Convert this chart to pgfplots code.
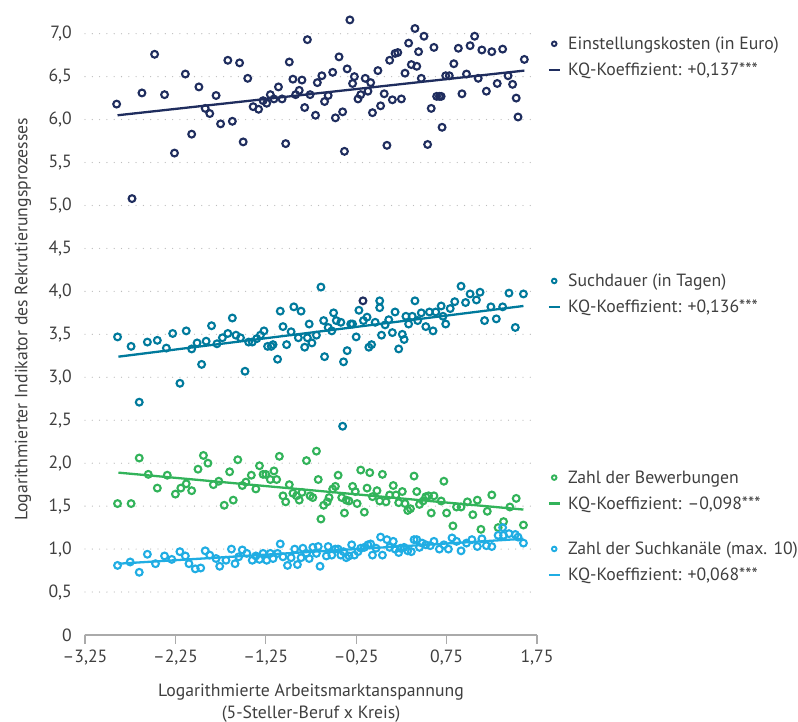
\documentclass[border=0pt]{standalone}
\usepackage{fontspec}
\setmainfont{PT Sans}
\usepackage{pgfplots}
\pgfplotsset{compat=1.18}
\definecolor{cnavy}{HTML}{1F2D5E}
\definecolor{cteal}{HTML}{007A9C}
\definecolor{cgreen}{HTML}{32B35A}
\definecolor{clight}{HTML}{20ADE3}
\definecolor{axgray}{HTML}{AAAAAA}
\definecolor{txtgray}{HTML}{3F3F3F}
\definecolor{gridgray}{HTML}{BDBDBD}
\newcommand{\myfont}{\fontsize{17.7bp}{22bp}\selectfont}
\pgfplotsset{
  scat/.style={only marks, mark=o, mark size=3.4bp, line width=2.1bp},
  regl/.style={no marks, line width=2.3bp},
  mymarkleg/.style={legend image code/.code={\path (-5.3bp,0) (5.3bp,0); \draw[##1, mark size=2.3bp, line width=1.9bp] plot coordinates {(0bp,0bp)};}},
  mylineleg/.style={legend image code/.code={\draw[##1, line width=2.4bp] (-5.3bp,0) -- (5.3bp,0);}},
  basegeom/.style={
    at={(0,0)}, anchor=south west, scale only axis,
    width=452bp, height=631.4bp,
    xmin=-3.25, xmax=1.75, ymin=0, ymax=7.35,
  },
  legbox/.style={
    hide axis,
    legend style={draw=none, fill=none, inner sep=0pt, outer sep=0pt,
      nodes={inner sep=0pt, text=txtgray}, font=\myfont,
      row sep=12bp, column sep=7.4bp, cells={anchor=west},
      anchor=west, at={(1.0237,#1)}},
  },
}
\begin{document}
\begin{tikzpicture}
\useasboundingbox (-85bp,-87bp) rectangle (713bp,635bp);
\begin{axis}[basegeom,
  axis x line*=bottom, axis y line*=left,
  x axis line style={draw=axgray, line width=1.2bp, -},
  y axis line style={draw=none},
  xtick style={draw=axgray, line width=1.2bp},
  ytick style={draw=none},
  tick align=outside, major tick length=9bp,
  xtick={-3.25,-2.25,-1.25,-0.25,0.75,1.75},
  xticklabels={–3{,}25,–2{,}25,–1{,}25,–0{,}25,0{,}75,1{,}75},
  ytick={0,0.5,1,1.5,2,2.5,3,3.5,4,4.5,5,5.5,6,6.5,7},
  yticklabels={0,0{,}5,1{,}0,1{,}5,2{,}0,2{,}5,3{,}0,3{,}5,4{,}0,4{,}5,5{,}0,5{,}5,6{,}0,6{,}5,7{,}0},
  tick label style={font=\myfont, text=txtgray},
  yticklabel style={inner sep=0pt, xshift=-4bp},
  xticklabel style={inner sep=0pt, yshift=-6bp},
  ymajorgrids,
  major grid style={draw=gridgray, line width=1.3bp, line cap=round, dash pattern=on 0bp off 7.3bp},
  xlabel={Logarithmierte Arbeitsmarktanspannung\\(5-Steller-Beruf x Kreis)},
  ylabel={Logarithmierter Indikator des Rekrutierungsprozesses},
  label style={font=\myfont, text=txtgray, align=center},
  xlabel style={yshift=-15bp},
  ylabel style={yshift=14bp},
]
\addplot[scat, cnavy] coordinates {
(-2.90,6.18)(-2.73,5.08)(-2.62,6.31)(-2.48,6.76)(-2.37,6.29)(-2.26,5.61)(-2.14,6.53)(-2.07,5.83)(-1.99,6.38)(-1.92,6.13)
(-1.87,6.07)(-1.80,6.28)(-1.75,5.95)(-1.67,6.69)(-1.62,5.98)(-1.54,6.66)(-1.50,5.74)(-1.45,6.48)(-1.39,6.15)(-1.33,6.12)
(-1.28,6.22)(-1.24,6.19)(-1.20,6.29)(-1.16,6.24)(-1.11,6.38)(-1.07,6.24)(-1.03,5.72)(-0.99,6.67)(-0.95,6.47)(-0.92,6.29)
(-0.88,6.34)(-0.85,6.46)(-0.82,6.14)(-0.79,6.93)(-0.76,6.29)(-0.70,6.05)(-0.68,6.43)(-0.63,6.51)(-0.60,6.21)(-0.56,6.28)
(-0.51,6.55)(-0.48,6.02)(-0.44,6.73)(-0.40,6.09)(-0.38,5.63)(-0.35,6.59)(-0.32,7.16)(-0.29,6.42)(-0.27,6.50)(-0.23,6.24)
(-0.20,6.29)(-0.15,6.48)(-0.12,6.33)(-0.09,6.43)(-0.07,6.08)(-0.01,6.57)(0.02,6.16)(0.06,6.30)(0.09,5.70)(0.12,6.69)
(0.15,6.23)(0.18,6.77)(0.21,6.78)(0.25,6.24)(0.29,6.54)(0.33,6.89)(0.36,6.64)(0.40,7.06)(0.42,6.62)(0.44,6.79)
(0.47,6.48)(0.50,6.97)(0.54,5.71)(0.58,6.13)(0.61,6.84)(0.64,6.27)(0.67,6.27)(0.69,6.27)(0.70,5.91)(0.74,6.51)
(0.78,6.51)(0.83,6.65)(0.88,6.83)(0.92,6.30)(0.97,6.53)(1.01,6.86)(1.06,6.97)(1.10,6.48)(1.14,6.81)(1.19,6.33)
(1.25,6.79)(1.31,6.42)(1.37,6.82)(1.43,6.51)(1.48,6.41)(1.52,6.25)(1.54,6.03)(1.61,6.70)(-0.175,3.89)
};
\addplot[regl, cnavy] coordinates {(-2.89,6.05)(1.61,6.57)};
\addplot[scat, cteal] coordinates {
(-2.89,3.47)(-2.74,3.36)(-2.65,2.71)(-2.56,3.41)(-2.45,3.43)(-2.35,3.34)(-2.28,3.51)(-2.20,2.93)(-2.13,3.54)(-2.07,3.33)
(-2.01,3.40)(-1.96,3.15)(-1.91,3.42)(-1.85,3.60)(-1.79,3.39)(-1.73,3.46)(-1.67,3.51)(-1.62,3.69)(-1.58,3.49)(-1.53,3.46)
(-1.48,3.07)(-1.44,3.41)(-1.40,3.41)(-1.35,3.45)(-1.31,3.49)(-1.27,3.54)(-1.23,3.36)(-1.19,3.36)(-1.17,3.38)(-1.12,3.21)
(-1.09,3.77)(-1.06,3.59)(-1.02,3.38)(-0.97,3.53)(-0.94,3.82)(-0.89,3.46)(-0.86,3.77)(-0.82,3.35)(-0.79,3.46)(-0.77,3.62)
(-0.74,3.40)(-0.69,3.49)(-0.64,4.05)(-0.61,3.66)(-0.60,3.24)(-0.56,3.58)(-0.52,3.54)(-0.50,3.75)(-0.47,3.66)(-0.42,3.64)
(-0.39,3.18)(-0.35,3.31)(-0.40,2.43)(-0.31,3.62)(-0.29,3.62)(-0.25,3.47)(-0.22,3.78)(-0.17,3.66)(-0.13,3.70)(-0.11,3.35)
(-0.08,3.38)(-0.04,3.64)(0.01,3.81)(0.01,3.89)(0.03,3.49)(0.07,3.61)(0.11,3.67)(0.15,3.52)(0.18,3.76)(0.22,3.33)
(0.26,3.50)(0.28,3.44)(0.30,3.71)(0.33,3.62)(0.37,3.71)(0.40,3.89)(0.43,3.66)(0.47,3.75)(0.52,3.59)(0.56,3.76)
(0.60,3.54)(0.63,3.76)(0.69,3.83)(0.71,3.71)(0.74,3.62)(0.79,3.80)(0.84,3.88)(0.91,4.06)(0.96,3.87)(1.01,3.97)
(1.08,3.90)(1.12,3.99)(1.17,3.66)(1.24,3.82)(1.30,3.68)(1.37,3.82)(1.44,3.98)(1.51,3.58)(1.60,3.97)
};
\addplot[regl, cteal] coordinates {(-2.88,3.24)(1.60,3.83)};
\addplot[scat, cgreen] coordinates {
(-2.89,1.53)(-2.74,1.53)(-2.65,2.06)(-2.55,1.87)(-2.45,1.71)(-2.34,1.86)(-2.25,1.64)(-2.19,1.71)(-2.13,1.76)(-2.07,1.68)
(-2.00,1.93)(-1.94,2.09)(-1.89,2.00)(-1.83,1.75)(-1.77,1.79)(-1.71,1.51)(-1.65,1.90)(-1.61,1.57)(-1.56,2.04)(-1.51,1.74)
(-1.47,1.78)(-1.41,1.86)(-1.36,1.70)(-1.32,1.97)(-1.28,1.87)(-1.25,1.87)(-1.20,1.81)(-1.16,1.91)(-1.13,1.81)(-1.10,2.08)
(-1.06,1.62)(-1.03,1.55)(-0.99,1.75)(-0.95,1.65)(-0.91,1.62)(-0.88,1.57)(-0.85,1.66)(-0.80,2.03)(-0.76,1.62)(-0.73,1.60)
(-0.69,2.14)(-0.67,1.81)(-0.64,1.35)(-0.61,1.51)(-0.57,1.55)(-0.55,1.60)(-0.51,1.70)(-0.48,1.73)(-0.45,1.86)(-0.41,1.60)
(-0.38,1.42)(-0.36,1.57)(-0.33,1.56)(-0.29,1.73)(-0.26,1.67)(-0.24,1.53)(-0.20,1.92)(-0.16,1.43)(-0.13,1.71)(-0.10,1.89)
(-0.07,1.61)(-0.02,1.68)(0.01,1.56)(0.04,1.87)(0.08,1.55)(0.12,1.63)(0.16,1.74)(0.19,1.63)(0.22,1.54)(0.26,1.67)
(0.29,1.53)(0.32,1.45)(0.35,1.47)(0.39,1.85)(0.42,1.67)(0.45,1.52)(0.49,1.56)(0.52,1.61)(0.55,1.62)(0.58,1.42)
(0.61,1.62)(0.69,1.56)(0.72,1.79)(0.75,1.42)(0.82,1.27)(0.86,1.49)(0.91,1.49)(0.98,1.55)(1.04,1.40)(1.09,1.57)
(1.13,1.23)(1.20,1.44)(1.25,1.63)(1.32,1.25)(1.38,1.32)(1.45,1.49)(1.52,1.59)(1.60,1.28)
};
\addplot[regl, cgreen] coordinates {(-2.88,1.89)(1.60,1.46)};
\addplot[scat, clight] coordinates {
(-2.89,0.81)(-2.75,0.85)(-2.65,0.73)(-2.56,0.94)(-2.47,0.83)(-2.37,0.92)(-2.29,0.88)(-2.20,0.97)(-2.14,0.92)(-2.10,0.83)
(-2.03,0.77)(-1.97,0.78)(-1.92,0.98)(-1.87,0.93)(-1.80,0.89)(-1.76,0.80)(-1.69,0.87)(-1.63,1.00)(-1.59,0.83)(-1.55,0.91)
(-1.51,0.99)(-1.46,0.95)(-1.40,0.87)(-1.36,0.92)(-1.32,0.88)(-1.28,0.95)(-1.24,0.87)(-1.20,0.95)(-1.17,0.89)(-1.12,0.95)
(-1.09,1.06)(-1.06,0.91)(-1.01,0.81)(-0.97,0.90)(-0.93,1.00)(-0.90,0.82)(-0.86,0.90)(-0.84,1.01)(-0.80,0.95)(-0.77,0.89)
(-0.73,1.02)(-0.69,0.95)(-0.67,1.03)(-0.65,0.80)(-0.58,0.92)(-0.56,1.03)(-0.52,0.93)(-0.48,1.00)(-0.45,1.00)(-0.42,0.93)
(-0.39,0.97)(-0.36,0.90)(-0.33,0.92)(-0.30,1.05)(-0.27,0.93)(-0.23,0.97)(-0.20,1.01)(-0.16,1.02)(-0.12,1.05)(-0.09,1.06)
(-0.07,0.93)(-0.03,1.01)(0.02,1.14)(0.04,0.93)(0.09,1.11)(0.12,1.02)(0.16,1.09)(0.18,1.00)(0.22,0.96)(0.24,1.01)
(0.28,1.02)(0.32,0.98)(0.36,0.97)(0.39,1.11)(0.42,1.11)(0.45,1.02)(0.48,1.07)(0.52,1.05)(0.57,1.04)(0.61,1.09)
(0.67,1.00)(0.72,1.05)(0.77,1.00)(0.81,1.13)(0.86,1.09)(0.91,0.98)(0.97,1.07)(1.03,1.11)(1.09,1.03)(1.14,1.12)
(1.19,1.04)(1.25,1.03)(1.32,1.16)(1.37,1.25)(1.38,1.16)(1.44,1.18)(1.51,1.17)(1.54,1.14)(1.60,1.07)
};
\addplot[regl, clight] coordinates {(-2.88,0.83)(1.60,1.12)};
\end{axis}
\begin{axis}[basegeom, legbox=0.9156]
\addlegendimage{mymarkleg, only marks, mark=o, cnavy}
\addlegendentry{Einstellungskosten (in Euro)}
\addlegendimage{mylineleg, cnavy}
\addlegendentry{KQ-Koeffizient: +0,137***}
\end{axis}
\begin{axis}[basegeom, legbox=0.540]
\addlegendimage{mymarkleg, only marks, mark=o, cteal}
\addlegendentry{Suchdauer (in Tagen)}
\addlegendimage{mylineleg, cteal}
\addlegendentry{KQ-Koeffizient: +0,136***}
\end{axis}
\begin{axis}[basegeom, legbox=0.2286]
\addlegendimage{mymarkleg, only marks, mark=o, cgreen}
\addlegendentry{Zahl der Bewerbungen}
\addlegendimage{mylineleg, cgreen}
\addlegendentry{KQ-Koeffizient: –0,098***}
\end{axis}
\begin{axis}[basegeom, legbox=0.1156]
\addlegendimage{mymarkleg, only marks, mark=o, clight}
\addlegendentry{Zahl der Suchkanäle (max. 10)}
\addlegendimage{mylineleg, clight}
\addlegendentry{KQ-Koeffizient: +0,068***}
\end{axis}
\end{tikzpicture}
\end{document}
